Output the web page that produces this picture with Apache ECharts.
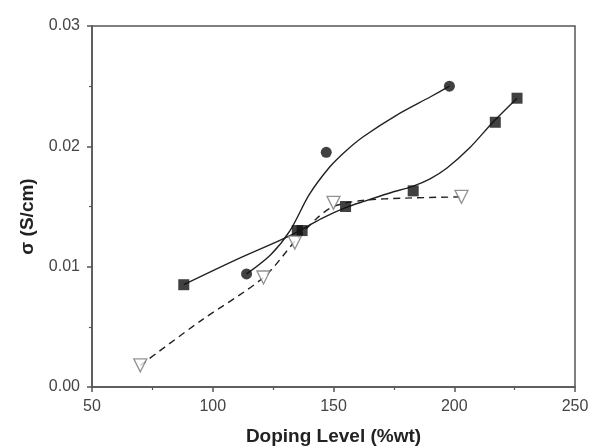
<!DOCTYPE html>
<html>
<head>
<meta charset="utf-8">
<script src="https://cdn.jsdelivr.net/npm/echarts@6/dist/echarts.min.js"></script>
<style>
  html, body { margin: 0; padding: 0; background: #fff; }
  #chart { width: 591px; height: 448px; }
</style>
</head>
<body>
<div id="chart"></div>
<script>
// measured points [doping %wt, sigma S/cm]
const squarePoints = [[88, 0.0085], [135, 0.0130], [137, 0.0130], [155, 0.0150], [183, 0.0163], [217, 0.0220], [226, 0.0240]];
const circlePoints = [[114, 0.0094], [147, 0.0195], [198, 0.0250]];
const trianglePoints = [[70, 0.0018], [121, 0.0091], [134, 0.0120], [150, 0.0153], [203, 0.0158]];

// fitted curves
const squareCurve = [[88, 0.0085], [110, 0.0106], [128, 0.0122], [136, 0.0130], [145, 0.0140], [155, 0.0149], [163, 0.01545], [173, 0.0161], [183, 0.0167], [190, 0.0173], [197, 0.0182], [206.5, 0.0199], [216, 0.0220], [226, 0.0240]];
const circleCurve = [[114, 0.0094], [124, 0.0110], [132, 0.0130], [140, 0.0160], [148.5, 0.0183], [155, 0.0196], [162.3, 0.0208], [176.2, 0.0226], [190, 0.0241], [198, 0.0250]];
const triangleCurve = [[70, 0.0018], [95, 0.0055], [121, 0.0091], [134, 0.0121], [143, 0.0140], [150, 0.0150], [162, 0.0155], [180, 0.0157], [203, 0.0158]];

const xTicks = { min: 50, max: 250, interval: 50 };
const yTicks = { min: 0, max: 0.03, interval: 0.01 };

const axisGray = '#555';
const textGray = '#444';
const font = 'Liberation Sans, Arial, sans-serif';

const chart = echarts.init(document.getElementById('chart'));

const lineSeries = (data, dashed) => ({
    type: 'line',
    data: data,
    smooth: 0.3,
    showSymbol: false,
    silent: true,
    z: 2,
    lineStyle: { color: '#222', width: 1.4, type: dashed ? [7, 5] : 'solid' }
});

chart.setOption({
    animation: false,
    grid: {
        left: 92, top: 26, right: 16, bottom: 61,
        outerBoundsMode: 'none',
        show: true, borderColor: axisGray, borderWidth: 1.5
    },
    xAxis: {
        type: 'value',
        min: xTicks.min, max: xTicks.max, interval: xTicks.interval,
        name: 'Doping Level (%wt)',
        nameLocation: 'middle',
        nameGap: 40,
        nameTextStyle: { fontFamily: font, fontSize: 19, fontWeight: 'bold', color: '#222' },
        axisLine: { show: true, onZero: false, lineStyle: { color: axisGray, width: 1.5 } },
        axisTick: { show: true, inside: false, length: 5, lineStyle: { color: axisGray, width: 1.5 } },
        minorTick: { show: true, splitNumber: 2, length: 3, lineStyle: { color: axisGray, width: 1.2 } },
        axisLabel: { margin: 12, fontFamily: font, fontSize: 16, color: textGray },
        splitLine: { show: false }
    },
    yAxis: {
        type: 'value',
        min: yTicks.min, max: yTicks.max, interval: yTicks.interval,
        name: 'σ (S/cm)',
        nameLocation: 'middle',
        nameGap: 55,
        nameTextStyle: { fontFamily: font, fontSize: 19, fontWeight: 'bold', color: '#222', padding: [0, 20, 0, 0] },
        axisLine: { show: true, onZero: false, lineStyle: { color: axisGray, width: 1.5 } },
        axisTick: { show: true, inside: false, length: 5, lineStyle: { color: axisGray, width: 1.5 } },
        minorTick: { show: true, splitNumber: 2, length: 3, lineStyle: { color: axisGray, width: 1.2 } },
        axisLabel: {
            margin: 12, fontFamily: font, fontSize: 16, color: textGray,
            formatter: v => v.toFixed(2)
        },
        splitLine: { show: false }
    },
    series: [
        lineSeries(squareCurve, false),
        lineSeries(circleCurve, false),
        lineSeries(triangleCurve, true),
        {
            type: 'scatter', data: squarePoints, symbol: 'rect', symbolSize: 11, z: 3,
            itemStyle: { color: '#111' }
        },
        {
            type: 'scatter', data: circlePoints, symbol: 'circle', symbolSize: 11, z: 3,
            itemStyle: { color: '#111' }
        },
        {
            type: 'scatter', data: trianglePoints, symbol: 'triangle', symbolRotate: 180, symbolSize: 13, z: 4,
            itemStyle: { color: '#fff', borderColor: '#777', borderWidth: 1.3 }
        }
    ]
});
</script>
</body>
</html>
